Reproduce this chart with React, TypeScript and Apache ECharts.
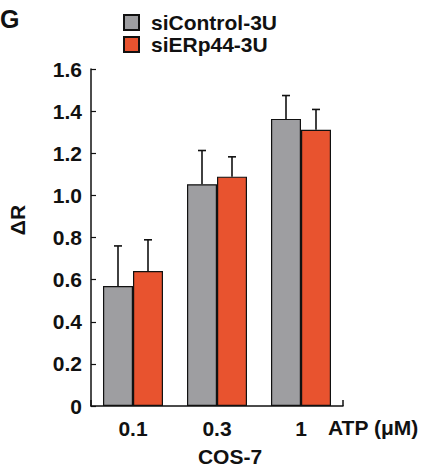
import React, { useEffect, useRef } from "react";
import * as echarts from "echarts";

const categories = ["0.1", "0.3", "1"];
const seriesNames = ["siControl-3U", "siERp44-3U"];
const controlValues = [0.57, 1.053, 1.363];
const controlErrors = [0.19, 0.16, 0.111];
const erpValues = [0.641, 1.089, 1.311];
const erpErrors = [0.148, 0.094, 0.097];
const yTicks = { min: 0, max: 1.6, interval: 0.2 };

const FONT = "'Liberation Sans', Arial, Helvetica, sans-serif";
const GREY = "#9e9ea1";
const RED = "#e8532f";
const BAR_W = 30;

export default function App() {
  const ref = useRef<HTMLDivElement>(null);
  useEffect(() => {
    if (!ref.current) return;
    const chart = echarts.init(ref.current, undefined, { renderer: "svg" });

    const errSeries = (vals: number[], errs: number[], side: number) => ({
      type: "custom",
      xAxisIndex: 0,
      yAxisIndex: 0,
      silent: true,
      z: 1,
      data: vals.map((v, i) => [i, v, errs[i]]),
      renderItem: (params: any, api: any) => {
        const idx = api.value(0);
        const v = api.value(1);
        const e = api.value(2);
        const base = api.coord([idx, v]);
        const top = api.coord([idx, v + e]);
        const x = base[0] + side * (BAR_W / 2);
        const style = { stroke: "#111", lineWidth: 1.6 };
        return {
          type: "group",
          children: [
            { type: "line", shape: { x1: x, y1: base[1], x2: x, y2: top[1] }, style },
            { type: "line", shape: { x1: x - 4, y1: top[1], x2: x + 4, y2: top[1] }, style },
          ],
        };
      },
    });

    chart.setOption({
      animation: false,
      backgroundColor: "#fff",
      textStyle: { fontFamily: FONT },
      grid: { left: 91, top: 69, width: 252, height: 337, containLabel: false },
      legend: {
        orient: "vertical",
        left: 118,
        top: 7,
        itemWidth: 15,
        itemHeight: 15,
        itemGap: 1,
        icon: "rect",
        data: seriesNames,
        textStyle: { fontFamily: FONT, fontWeight: "bold", fontSize: 21, lineHeight: 18, color: "#111", padding: [0, 0, 0, 7] },
      },
      xAxis: [
        {
          type: "category",
          data: categories,
          axisLine: { lineStyle: { color: "#111", width: 1.5 } },
          axisTick: { show: false },
          axisLabel: { fontFamily: FONT, fontWeight: "bold", fontSize: 21, color: "#111", margin: 12 },
        },
        {
          type: "value",
          position: "bottom",
          min: 0,
          max: 1,
          interval: 1,
          gridIndex: 0,
          axisLine: { show: false },
          axisTick: { show: true, inside: true, length: 6, lineStyle: { color: "#111", width: 1.5 } },
          axisLabel: { show: false },
          splitLine: { show: false },
        },
      ],
      yAxis: {
        type: "value",
        min: yTicks.min,
        max: yTicks.max,
        interval: yTicks.interval,
        axisLine: { show: true, lineStyle: { color: "#111", width: 1.5 } },
        axisTick: { show: true, inside: true, length: 5, lineStyle: { color: "#111", width: 1.2 } },
        splitLine: { show: false },
        axisLabel: {
          fontFamily: FONT,
          fontWeight: "bold",
          fontSize: 21,
          color: "#111",
          margin: 9,
          formatter: (v: number) => (v === 0 ? "0" : v.toFixed(1)),
        },
      },
      graphic: [
        { type: "text", left: 0, top: 6, style: { text: "G", font: `bold 25px ${FONT}`, fill: "#111" } },
        {
          type: "text",
          x: 17,
          y: 220,
          rotation: Math.PI / 2,
          style: { text: "ΔR", font: `bold 21px ${FONT}`, fill: "#111", textAlign: "center", textVerticalAlign: "middle" },
        },
        {
          type: "text",
          x: 328,
          y: 427,
          style: { text: "ATP (μM)", font: `bold 21px ${FONT}`, fill: "#111", textAlign: "left", textVerticalAlign: "middle" },
        },
        {
          type: "text",
          x: 230,
          y: 456,
          style: { text: "COS-7", font: `bold 21px ${FONT}`, fill: "#111", textAlign: "center", textVerticalAlign: "middle" },
        },
      ],
      series: [
        {
          name: seriesNames[0],
          type: "bar",
          data: controlValues,
          barWidth: BAR_W,
          barGap: "0%",
          itemStyle: { color: GREY, borderColor: "#111", borderWidth: 1.2 },
          z: 2,
        },
        {
          name: seriesNames[1],
          type: "bar",
          data: erpValues,
          barWidth: BAR_W,
          barGap: "0%",
          itemStyle: { color: RED, borderColor: "#111", borderWidth: 1.2 },
          z: 2,
        },
        errSeries(controlValues, controlErrors, -1),
        errSeries(erpValues, erpErrors, 1),
      ],
    });
    return () => chart.dispose();
  }, []);
  return <div ref={ref} style={{ position: "fixed", left: 0, top: 0, width: 427, height: 470 }} />;
}
